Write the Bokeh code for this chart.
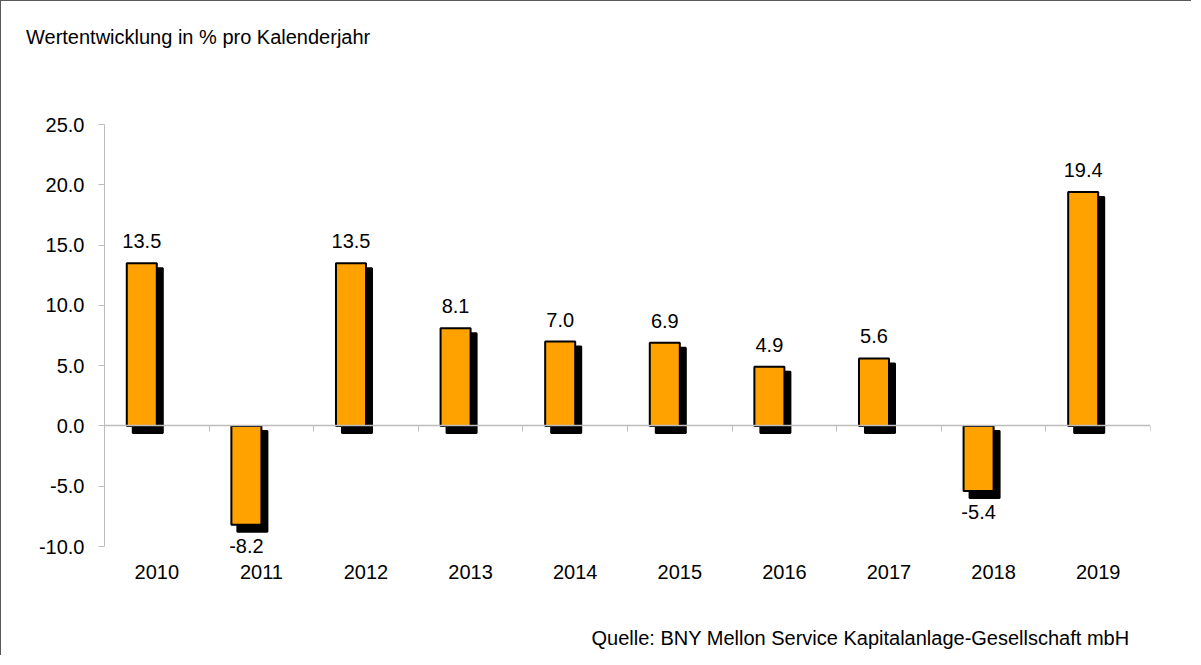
from bokeh.plotting import figure
from bokeh.layouts import column
from bokeh.models import (Range1d, LinearAxis, FixedTicker, NumeralTickFormatter,
                          ColumnDataSource, Div)
from bokeh.core.properties import value
from bokeh.embed import file_html
from bokeh.resources import INLINE

# ---- data ----
years = ["2010", "2011", "2012", "2013", "2014", "2015", "2016", "2017", "2018", "2019"]
returns = [13.5, -8.2, 13.5, 8.1, 7.0, 6.9, 4.9, 5.6, -5.4, 19.4]
y_ticks = [-10, -5, 0, 5, 10, 15, 20, 25]
title_text = "Wertentwicklung in % pro Kalenderjahr"
source_text = ["Quelle: BNY Mellon Service Kapitalanlage-Gesellschaft mbH"]

FONT = "Liberation Sans"
BAR_COLOR = "#FFA200"
GRID = "#cfcfcf"
AXIS = "#bdbdbd"

W, H = 1190, 654
HD = 60                       # height of the title strip
HF = H - HD                   # figure height
LEFT, TOP, FW = 103, 123 - HD, 1046
n = len(years)
x0, x1 = -0.5, n - 0.5
ya, yb = y_ticks[0], y_ticks[-1]
px_x = FW / (x1 - x0)
px_y = 422 / (yb - ya)                   # pixels per percent point
y_bottom = ya - (HF - TOP - 422) / px_y  # frame reaches the canvas bottom

idx = list(range(n))
bar_w = 0.287
bar_x = [i - bar_w / 2 for i in idx]
shadow_x = [x + 6 / px_x for x in bar_x]
shadow_top = [max(v, 0) - 5 / px_y for v in returns]
shadow_bottom = [min(v, 0) - 7 / px_y for v in returns]
labels = [f"{v:.1f}" for v in returns]
label_off = [-22 if v >= 0 else 21 for v in returns]

src = ColumnDataSource(dict(x=bar_x, sx=shadow_x, v=returns, zero=[0] * n,
                            st=shadow_top, sb=shadow_bottom, lab=labels, off=label_off))

p = figure(width=W, height=HF, x_range=Range1d(x0, x1), y_range=Range1d(y_bottom, yb),
           output_backend="svg", toolbar_location=None, x_axis_type=None, y_axis_type=None,
           min_border_left=LEFT, min_border_right=W - LEFT - FW,
           min_border_top=TOP, min_border_bottom=0, margin=0)
p.outline_line_color = None
p.background_fill_color = "white"
p.border_fill_color = "white"

# y axis
yax = LinearAxis(ticker=FixedTicker(ticks=y_ticks), formatter=NumeralTickFormatter(format="0.0"),
                 bounds=(ya, yb))
yax.axis_line_color = AXIS
yax.major_tick_line_color = AXIS
yax.major_tick_in = 0
yax.major_tick_out = 6
yax.minor_tick_line_color = None
yax.major_label_standoff = 14
yax.major_label_text_font = FONT
yax.major_label_text_font_size = "20px"
yax.major_label_text_color = "black"
p.add_layout(yax, "left")

# year labels below the -10 line
xlab = LinearAxis(ticker=FixedTicker(ticks=idx), fixed_location=ya,
                  major_label_overrides={i: y for i, y in zip(idx, years)})
xlab.axis_line_color = None
xlab.major_tick_line_color = None
xlab.minor_tick_line_color = None
xlab.major_label_standoff = 12
xlab.major_label_text_font = FONT
xlab.major_label_text_font_size = "20px"
xlab.major_label_text_color = "black"
p.add_layout(xlab, "below")

# zero line axis with category boundary ticks
bounds = [i - 0.5 for i in range(n + 1)]
zax = LinearAxis(ticker=FixedTicker(ticks=bounds), fixed_location=0,
                 major_label_overrides={b: "" for b in bounds})
zax.axis_line_color = AXIS
zax.axis_line_width = 1.5
zax.major_tick_line_color = AXIS
zax.major_tick_in = 0
zax.major_tick_out = 6
zax.minor_tick_line_color = None
zax.major_label_text_font_size = "1px"
p.add_layout(zax, "below")

p.xgrid.visible = False
p.ygrid.ticker = FixedTicker(ticks=y_ticks)
p.ygrid.grid_line_color = GRID

# shadows and bars
p.vbar(x="sx", width=bar_w, top="st", bottom="sb", source=src,
       fill_color="black", line_color="black", line_width=2)
p.vbar(x="x", width=bar_w, top="v", bottom="zero", source=src,
       fill_color=BAR_COLOR, line_color="black", line_width=2)

p.text(x="x", y="v", text="lab", source=src, y_offset="off",
       text_align="center", text_baseline="alphabetic",
       text_font=value(FONT), text_font_size="20px", text_color="black")

# source note, bottom right
p.text(x=[x0 + (1128 - LEFT) / px_x], y=[ya - (636 - 123 - 422) / px_y], text=source_text,
       text_align="right", text_baseline="middle",
       text_font=value(FONT), text_font_size="20px", text_color="black")

# title strip above the chart
title = Div(text=title_text, width=W, height=HD, margin=0,
            styles={"font-family": FONT, "font-size": "20px", "color": "black",
                    "background-color": "white", "padding-left": "25px",
                    "padding-top": "25px", "box-sizing": "border-box",
                    "white-space": "nowrap", "line-height": "23px"})

layout = column(title, p, spacing=0, margin=0,
                styles={"border-left": "1px solid #5a5a5a", "border-top": "1px solid #5a5a5a",
                        "background-color": "white"})

open("out.html", "w").write(file_html(layout, INLINE))
